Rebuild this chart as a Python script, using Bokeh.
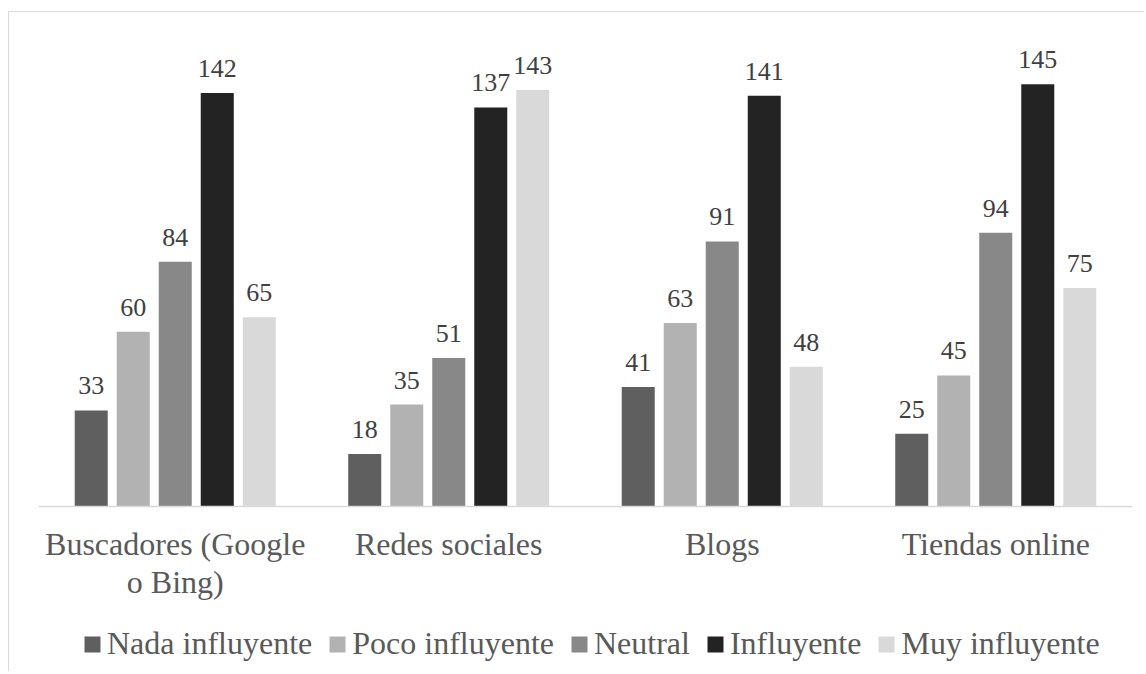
from bokeh.plotting import figure
from bokeh.models import ColumnDataSource, FactorRange, LabelSet, Range1d, Span
from bokeh.transform import dodge
from bokeh.core.properties import value
from bokeh.embed import file_html
from bokeh.resources import INLINE

categories = ["Buscadores (Google\no Bing)", "Redes sociales", "Blogs", "Tiendas online"]
series = ["Nada influyente", "Poco influyente", "Neutral", "Influyente", "Muy influyente"]
nada = [33, 18, 41, 25]
poco = [60, 35, 63, 45]
neutral = [84, 51, 91, 94]
influyente = [142, 137, 141, 145]
muy = [65, 143, 48, 75]
colors = ["#5f5f5f", "#b2b2b2", "#888888", "#232323", "#d9d9d9"]

values = [nada, poco, neutral, influyente, muy]
keys = ["nada", "poco", "neutral", "influyente", "muy"]
data = {"cat": categories, "zero": [0] * len(categories),
        "line1": [c.split("\n")[0] for c in categories]}
for k, v in zip(keys, values):
    data[k] = v
    data[k + "_lbl"] = [str(x) for x in v]
src = ColumnDataSource(data)

second = [(c, c.split("\n")[1]) for c in categories if "\n" in c]
src2 = ColumnDataSource({"cat": [c for c, _ in second], "line2": [t for _, t in second],
                         "zero": [0] * len(second)})

FONT = "Liberation Serif"

p = figure(x_range=FactorRange(*categories, range_padding=0), y_range=Range1d(-57, 160),
           width=1136, height=660, output_backend="svg", toolbar_location=None,
           min_border_left=29, min_border_right=13, min_border_top=28, min_border_bottom=0)
p.styles = {"border-top": "1px solid #d9d9d9", "border-left": "1px solid #d9d9d9",
            "margin-top": "11px", "margin-left": "8px"}

step = 0.1536
bw = 0.1207
offsets = [-2 * step, -step, 0, step, 2 * step]
for k, name, c, off in zip(keys, series, colors, offsets):
    p.vbar(x=dodge("cat", off, range=p.x_range), top=k, width=bw, source=src,
           fill_color=c, line_color=None, legend_label=name)
    lab = LabelSet(x=dodge("cat", off, range=p.x_range), y=k, text=k + "_lbl", source=src,
                   text_align="center", text_baseline="alphabetic", y_offset=16,
                   text_font=value(FONT), text_font_size=value("26px"), text_color="#404040")
    p.add_layout(lab)

# category axis drawn at zero
p.add_layout(Span(location=0, dimension="width", line_color="#d9d9d9", line_width=1.5))
for s, col, off in [(src, "line1", -49), (src2, "line2", -87)]:
    p.add_layout(LabelSet(x="cat", y="zero", text=col, source=s, text_align="center",
                          text_baseline="alphabetic", y_offset=off, text_font=value(FONT),
                          text_font_size=value("32px"), text_color="#595959"))

p.xaxis.visible = False
p.yaxis.visible = False
p.xgrid.visible = False
p.ygrid.visible = False
p.outline_line_color = None

lg = p.legend[0]
lg.orientation = "horizontal"
lg.location = (44, 10)
lg.label_text_font = FONT
lg.label_text_font_size = "32px"
lg.label_text_color = "#595959"
lg.glyph_width = 20
lg.glyph_height = 20
lg.label_standoff = 5
lg.spacing = 15
lg.padding = 0
lg.margin = 0
lg.border_line_color = None
lg.background_fill_alpha = 0

open("out.html", "w").write(file_html(p, INLINE))
